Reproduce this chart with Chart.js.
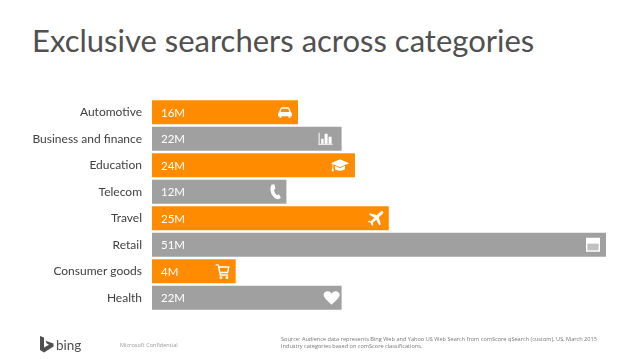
<!DOCTYPE html>
<html>
<head>
<meta charset="utf-8">
<script src="https://cdn.jsdelivr.net/npm/chart.js@4"></script>
<style>
    html, body { margin: 0; padding: 0; background: #fff; }
    #slide { position: relative; width: 638px; height: 359px; overflow: hidden; font-family: "Open Sans", sans-serif; }
    #grafico { position: absolute; left: 0; top: 0; }
    h1 { position: absolute; left: 32px; top: 18px; margin: 0; font-family: Lato, sans-serif; font-size: 31px; line-height: 44px; font-weight: 400; color: #505050; white-space: nowrap; }
    .rodape { position: absolute; color: #777; font-size: 5.6px; line-height: 7px; white-space: nowrap; }
    #bing { position: absolute; left: 56px; top: 333px; font-family: Lato, sans-serif; font-size: 13.5px; line-height: 24px; color: #505050; }
    #logo { position: absolute; left: 40px; top: 336px; }
</style>
</head>
<body>
<div id="slide">
    <h1>Exclusive searchers across categories</h1>
    <canvas id="grafico" width="638" height="359"></canvas>
    <svg id="logo" width="14" height="17" viewBox="0 0 14 17"><path d="M0 0 L4 1.4 V11.5 L9 8.8 L6.8 7.6 L5.6 4.8 L13.5 7.6 V10.6 L4 16.5 L0 14 Z" fill="#505050"/></svg>
    <div id="bing">bing</div>
    <div class="rodape" style="left:120px; top:342px; color:#999;">Microsoft Confidential</div>
    <div class="rodape" style="left:281px; top:336px;">Source: Audience data represents Bing Web and Yahoo US Web Search from comScore qSearch (custom), US, March 2015<br>Industry categories based on comScore classifications.</div>
</div>
<script>
const categorias = ['Automotive', 'Business and finance', 'Education', 'Telecom', 'Travel', 'Retail', 'Consumer goods', 'Health'];
const rotulos = ['16M', '22M', '24M', '12M', '25M', '51M', '4M', '22M'];
// the slide's bars are not proportional to their labels, so these are the drawn lengths as read off the picture
const comprimentos = [16.4, 21.3, 22.8, 15.1, 26.6, 51, 9.4, 21.3];
const icones = ['carro', 'barras', 'capelo', 'telefone', 'aviao', 'loja', 'carrinho', 'coracao'];

const laranja = '#ff8c00';
const cinza = '#a0a0a0';

const desenhos = {
    carro: (c) => {
        c.fill(new Path2D('M-6 0 L-4.5 -4 Q-4 -5 -3 -5 H3 Q4 -5 4.5 -4 L6 0 Q7 .5 7 2 V4 H5.5 V5.5 H3.5 V4 H-3.5 V5.5 H-5.5 V4 H-7 V2 Q-7 .5 -6 0 Z M-4.3 -.3 H4.3 L3.3 -3.6 H-3.3 Z'), 'evenodd');
    },
    barras: (c) => {
        c.fillRect(-7, -6, 1, 12);
        c.fillRect(-7, 5, 14, 1);
        c.fillRect(-4.5, 0, 2.5, 5);
        c.fillRect(-1, -5, 3, 10);
        c.fillRect(3, -2, 3, 7);
    },
    capelo: (c) => {
        c.fill(new Path2D('M0 -6 L9 -2 L0 2 L-9 -2 Z M-5 0.5 L0 3 L5 0.5 V4 Q0 7 -5 4 Z M-7.5 -1 H-6.7 V3 L-6 6 H-8.5 L-7.5 3 Z'));
    },
    telefone: (c) => {
        c.fill(new Path2D('M-4 -7 L-1 -7.5 L0 -3 L-1.5 -2 Q-1 1.5 1.5 3.5 L3.5 2.5 L5.5 6 L3 7.5 Q-1 7.5 -4 2 Q-6 -3 -4 -7 Z'));
    },
    aviao: (c) => {
        c.fill(new Path2D('M7 -7 Q8 -6.5 7 -4.5 L3 -1 L5 6 L3.5 7 L.5 1.5 L-3 4.5 L-2.5 7 L-4 7.5 L-5 4.5 L-8 3.5 L-7.5 2.5 L-5 3 L-1.5 -.5 L-7 -4 L-6 -5 L1 -3 L4.5 -6.5 Q6 -7.5 7 -7 Z'));
    },
    loja: (c) => {
        c.fill(new Path2D('M-7 -7 H7 V7 H-7 Z M-5.5 -1 V5.5 H5.5 V-1 Z'), 'evenodd');
        c.fillStyle = 'rgba(255,255,255,.35)';
        c.fillRect(-5.5, -1, 11, 6.5);
    },
    carrinho: (c) => {
        c.fill(new Path2D('M-7 -7 H-4 L-3.4 -5 H7 L5.5 2 H-2 L-1.8 3 H5.5 V4.5 H-3 L-5 -5.7 H-7 Z M-3 -3.6 L-2.3 .6 H4.3 L5.2 -3.6 Z'), 'evenodd');
        c.fillRect(-3, 5, 2.5, 2.5);
        c.fillRect(3, 5, 2.5, 2.5);
    },
    coracao: (c) => {
        c.fill(new Path2D('M0 7 C-4 3 -8 0 -8 -3 C-8 -6.5 -2.5 -8 0 -4 C2.5 -8 8 -6.5 8 -3 C8 0 4 3 0 7 Z'));
    },
};
const recuoIcone = [13, 16, 15, 11, 13, 13, 13, 10];

// value labels and icons sit on the bars, taken from each bar's own element
const rotulosBarras = {
    id: 'rotulosBarras',
    afterDatasetsDraw(chart) {
        const c = chart.ctx;
        chart.getDatasetMeta(0).data.forEach((barra, i) => {
            c.save();
            c.fillStyle = '#fff';
            c.font = '400 11.5px Lato';
            c.textAlign = 'left';
            c.textBaseline = 'middle';
            c.fillText(rotulos[i], chart.chartArea.left + 9, barra.y + 1);
            c.translate(barra.x - recuoIcone[i], barra.y);
            desenhos[icones[i]](c);
            c.restore();
        });
    },
};

const ctx = document.getElementById('grafico').getContext('2d');
const grafico = new Chart(ctx, {
    type: 'bar',
    data: {
        labels: categorias,
        datasets: [{
            data: comprimentos,
            backgroundColor: (item) => item.dataIndex % 2 === 0 ? laranja : cinza,
            categoryPercentage: 1,
            barPercentage: 0.9,
        }]
    },
    plugins: [rotulosBarras],
    options: {
        indexAxis: 'y',
        responsive: false,
        animation: false,
        layout: {
            padding: { top: 99, bottom: 48, left: 0, right: 32 },
        },
        scales: {
            x: {
                display: false,
                min: 0,
                max: 51,
            },
            y: {
                afterFit: (escala) => { escala.width = 152; },
                grid: { display: false, drawTicks: false },
                border: { display: false },
                ticks: {
                    padding: 10,
                    color: '#404040',
                    font: { family: 'Lato', size: 12, weight: '400' },
                },
            },
        },
        plugins: {
            legend: { display: false },
            tooltip: { enabled: false },
        },
    },
});
</script>
</body>
</html>
